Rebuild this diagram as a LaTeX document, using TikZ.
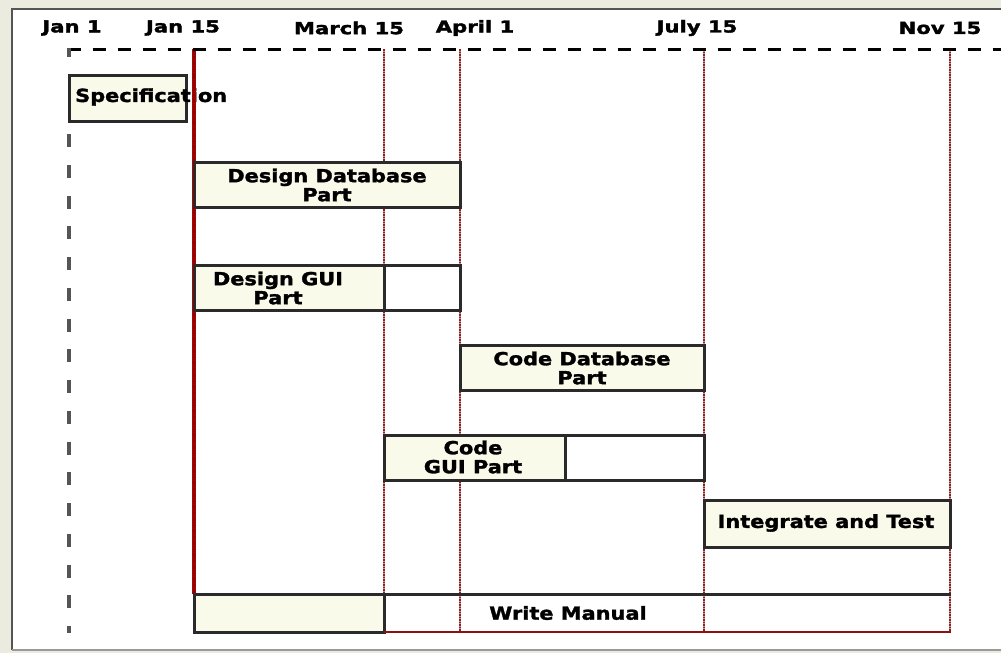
\documentclass[tikz,border=0pt]{standalone}
\usepackage{fontspec}
\newfontfamily\gfont{DejaVu Sans}[FakeStretch=1.16,FakeBold=1.7]
\newfontfamily\dfont{DejaVu Sans}[FakeStretch=1.28,FakeBold=2]
\definecolor{bg}{HTML}{ECEBDF}
\definecolor{cream}{HTML}{FAFAEA}
\definecolor{halo}{HTML}{E08888}
\definecolor{gridred}{HTML}{7A2828}
\definecolor{darkred}{HTML}{8E1010}
\definecolor{edge}{HTML}{2A2A2A}
\definecolor{lgray}{HTML}{555555}
\tikzset{
  tbox/.style={draw=edge, line width=3pt, fill=cream, inner sep=0pt, outer sep=0pt, anchor=north west},
  ebox/.style={draw=edge, line width=3pt, inner sep=0pt, outer sep=0pt, anchor=north west},
  gridhalo/.style={draw=halo, line width=2.8pt},
  gridline/.style={draw=gridred, line width=1.3pt, dash pattern=on 1.6pt off 0.9pt},
  jhalo/.style={draw=red!70!black, line width=3.2pt},
  jline/.style={draw=darkred!80!black, line width=2pt, dash pattern=on 1.6pt off 0.8pt},
  lbl/.style={font=\gfont\bfseries\fontsize{18}{19}\selectfont, align=center, text=black, inner sep=0pt},
  dlbl/.style={font=\dfont\bfseries\fontsize{16.5}{18}\selectfont, text=black, inner sep=0pt},
}
\begin{document}
\begin{tikzpicture}[x=1pt,y=-1pt]
\useasboundingbox (0,0) rectangle (1001,653);
% background and frame
\fill[bg] (0,0) rectangle (1001,653);
\fill[white] (12,9) rectangle (1001,650);
\draw[lgray, line width=2.8pt] (1001,9) -- (12,9) -- (12,650);
\draw[gray!80, line width=1.8pt] (12,650) -- (1001,650);

% date labels
\node[dlbl] (d1) at (72,28) {Jan 1};
\node[dlbl] (d2) at (183,28) {Jan 15};
\node[dlbl] (d3) at (349,28) {March 15};
\node[dlbl] (d4) at (475,28) {April 1};
\node[dlbl] (d5) at (697,28) {July 15};
\node[dlbl] (d6) at (940,28) {Nov 15};

% time axis coordinates
\coordinate (a0t) at (69,49);   \coordinate (a0b) at (69,633);
\coordinate (a1t) at (194,49);  \coordinate (a1b) at (194,594);
\coordinate (a2t) at (384,49);  \coordinate (a2b) at (384,632);
\coordinate (a3t) at (460,49);  \coordinate (a3b) at (460,632);
\coordinate (a4t) at (704,49);  \coordinate (a4b) at (704,632);
\coordinate (a5t) at (950,49);  \coordinate (a5b) at (950,632);
\coordinate (aend) at (1001,49);

% red grid lines
\draw[jhalo] (a1t) -- (a1b);
\draw[jline] (a1t) -- (a1b);
\foreach \t/\b in {a2t/a2b,a3t/a3b,a4t/a4b,a5t/a5b}{
  \draw[gridhalo] (\t) -- (\b);
  \draw[gridline] (\t) -- (\b);
}

% top dashed line and left dashed line
\draw[black, line width=3pt, dash pattern=on 13pt off 12pt] (67.5,49) -- (aend);
\draw[lgray, line width=4pt] (69,47.5) -- (69,57);
\draw[lgray, line width=4.2pt, dash pattern=on 13pt off 17.75pt] (69,134) -- (a0b);

% Specification
\node[tbox, minimum width=117pt, minimum height=46pt] (spec) at (69,75) {};
\node[lbl, anchor=west] (spect) at (75,97) {Specification};
\draw[jhalo] (194,75) -- (194,121);
\draw[jline] (194,75) -- (194,121);

% Design Database Part
\node[tbox, minimum width=266pt, minimum height=45pt] (ddb) at (194,162) {};
\node[lbl] (ddbt) at (327,185) {Design Database\\Part};

% Design GUI Part
\node[ebox, minimum width=76pt, minimum height=45pt] (dguie) at (384,265) {};
\node[tbox, minimum width=190pt, minimum height=45pt] (dgui) at (194,265) {};
\node[lbl] (dguit) at (278,288) {Design GUI\\Part};

% Code Database Part
\node[tbox, minimum width=244pt, minimum height=45pt] (cdb) at (460,345) {};
\node[lbl] (cdbt) at (582,368) {Code Database\\Part};

% Code GUI Part
\node[ebox, minimum width=139pt, minimum height=45pt] (cguie) at (565,435) {};
\node[tbox, minimum width=181pt, minimum height=45pt] (cgui) at (384,435) {};
\node[lbl] (cguit) at (473,457) {Code\\GUI Part};

% Integrate and Test
\node[tbox, minimum width=246pt, minimum height=47pt] (integ) at (704,500) {};
\node[lbl] (integt) at (826,523) {Integrate and Test};

% Write Manual
\node[tbox, minimum width=190pt, minimum height=38pt] (wm) at (194,594) {};
\coordinate (wmtl) at (384,594);
\coordinate (wmbl) at (384,632);
\coordinate (wmtr) at (951,594);
\coordinate (wmbr) at (951,632);
\draw[edge, line width=3pt] (wmtl) -- (wmtr);
\draw[darkred, line width=2.6pt] (wmbl) -- (wmbr);
\node[lbl] (wmt) at (568,613) {Write Manual};
\end{tikzpicture}
\end{document}
